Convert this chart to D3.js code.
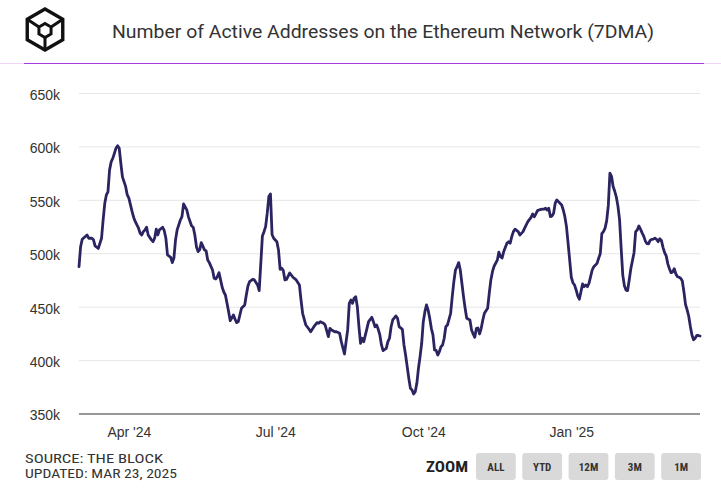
<!DOCTYPE html>
<html><head><meta charset="utf-8">
<script src="https://cdn.jsdelivr.net/npm/d3@7"></script>
<style>
html,body{margin:0;padding:0;background:#fff;}
svg{display:block;}
</style></head>
<body>
<svg id="chart" width="721" height="490"></svg>
<script>
const title = "Number of Active Addresses on the Ethereum Network (7DMA)";
const sourceLines = ["SOURCE: THE BLOCK", "UPDATED: MAR 23, 2025"];
const zoomButtons = ["ALL", "YTD", "12M", "3M", "1M"];
const yTicks = [350, 400, 450, 500, 550, 600, 650];
const xTickDates = ["2024-04-01", "2024-07-01", "2024-10-01", "2025-01-01"];
const xTickLabels = ["Apr '24", "Jul '24", "Oct '24", "Jan '25"];
const dateDomain = ["2024-03-01", "2025-03-22"];

const dates = [
"2024-03-01","2024-03-02","2024-03-03","2024-03-06","2024-03-07","2024-03-09","2024-03-10","2024-03-11","2024-03-13","2024-03-15",
"2024-03-16","2024-03-17","2024-03-18","2024-03-19","2024-03-20","2024-03-21","2024-03-22","2024-03-23","2024-03-24","2024-03-25",
"2024-03-26","2024-03-27","2024-03-28","2024-03-30","2024-03-31","2024-04-01","2024-04-02","2024-04-03","2024-04-04","2024-04-05",
"2024-04-06","2024-04-07","2024-04-08","2024-04-09","2024-04-10","2024-04-11","2024-04-12","2024-04-13","2024-04-15","2024-04-16",
"2024-04-17","2024-04-18","2024-04-19","2024-04-20","2024-04-22","2024-04-23","2024-04-24","2024-04-25","2024-04-27","2024-04-28",
"2024-04-29","2024-04-30","2024-05-01","2024-05-03","2024-05-04","2024-05-05","2024-05-07","2024-05-08","2024-05-10","2024-05-11",
"2024-05-12","2024-05-13","2024-05-14","2024-05-15","2024-05-16","2024-05-18","2024-05-19","2024-05-20","2024-05-21","2024-05-23",
"2024-05-24","2024-05-25","2024-05-26","2024-05-27","2024-05-28","2024-05-29","2024-05-30","2024-05-31","2024-06-01","2024-06-02",
"2024-06-03","2024-06-05","2024-06-06","2024-06-07","2024-06-08","2024-06-09","2024-06-10","2024-06-12","2024-06-13","2024-06-14",
"2024-06-15","2024-06-17","2024-06-18","2024-06-20","2024-06-21","2024-06-22","2024-06-23","2024-06-24","2024-06-25","2024-06-26",
"2024-06-27","2024-06-28","2024-06-29","2024-06-30","2024-07-02","2024-07-03","2024-07-04","2024-07-05","2024-07-06","2024-07-07",
"2024-07-08","2024-07-10","2024-07-12","2024-07-14","2024-07-16","2024-07-17","2024-07-18","2024-07-20","2024-07-22","2024-07-23",
"2024-07-25","2024-07-27","2024-07-28","2024-07-29","2024-07-31","2024-08-01","2024-08-03","2024-08-04","2024-08-05","2024-08-07",
"2024-08-08","2024-08-10","2024-08-11","2024-08-12","2024-08-13","2024-08-15","2024-08-16","2024-08-17","2024-08-18","2024-08-19",
"2024-08-20","2024-08-21","2024-08-22","2024-08-23","2024-08-24","2024-08-25","2024-08-27","2024-08-28","2024-08-30","2024-08-31",
"2024-09-01","2024-09-02","2024-09-03","2024-09-04","2024-09-05","2024-09-06","2024-09-08","2024-09-09","2024-09-10","2024-09-11",
"2024-09-12","2024-09-14","2024-09-15","2024-09-16","2024-09-18","2024-09-19","2024-09-20","2024-09-21","2024-09-22","2024-09-23",
"2024-09-24","2024-09-25","2024-09-26","2024-09-27","2024-09-28","2024-09-29","2024-09-30","2024-10-01","2024-10-02","2024-10-03",
"2024-10-04","2024-10-05","2024-10-06","2024-10-07","2024-10-08","2024-10-09","2024-10-10","2024-10-11","2024-10-12","2024-10-13",
"2024-10-14","2024-10-15","2024-10-16","2024-10-18","2024-10-19","2024-10-20","2024-10-21","2024-10-22","2024-10-23","2024-10-24",
"2024-10-25","2024-10-26","2024-10-27","2024-10-28","2024-10-30","2024-10-31","2024-11-01","2024-11-02","2024-11-03","2024-11-04",
"2024-11-05","2024-11-06","2024-11-07","2024-11-08","2024-11-10","2024-11-11","2024-11-12","2024-11-13","2024-11-14","2024-11-16",
"2024-11-17","2024-11-18","2024-11-19","2024-11-20","2024-11-22","2024-11-23","2024-11-24","2024-11-25","2024-11-26","2024-11-27",
"2024-11-29","2024-11-30","2024-12-02","2024-12-03","2024-12-04","2024-12-05","2024-12-07","2024-12-08","2024-12-09","2024-12-10",
"2024-12-11","2024-12-12","2024-12-14","2024-12-15","2024-12-16","2024-12-17","2024-12-18","2024-12-19","2024-12-20","2024-12-21",
"2024-12-22","2024-12-23","2024-12-24","2024-12-26","2024-12-27","2024-12-28","2024-12-29","2024-12-30","2024-12-31","2025-01-01",
"2025-01-02","2025-01-03","2025-01-04","2025-01-05","2025-01-06","2025-01-07","2025-01-08","2025-01-09","2025-01-10","2025-01-11",
"2025-01-12","2025-01-13","2025-01-14","2025-01-15","2025-01-17","2025-01-18","2025-01-19","2025-01-20","2025-01-21","2025-01-22",
"2025-01-23","2025-01-24","2025-01-25","2025-01-26","2025-01-27","2025-01-28","2025-01-29","2025-01-30","2025-01-31","2025-02-01",
"2025-02-02","2025-02-03","2025-02-04","2025-02-05","2025-02-06","2025-02-07","2025-02-08","2025-02-09","2025-02-10","2025-02-11",
"2025-02-12","2025-02-13","2025-02-14","2025-02-15","2025-02-16","2025-02-17","2025-02-18","2025-02-19","2025-02-20","2025-02-21",
"2025-02-22","2025-02-23","2025-02-24","2025-02-25","2025-02-26","2025-02-27","2025-02-28","2025-03-01","2025-03-02","2025-03-03",
"2025-03-04","2025-03-05","2025-03-06","2025-03-07","2025-03-08","2025-03-09","2025-03-10","2025-03-11","2025-03-12","2025-03-13",
"2025-03-14","2025-03-15","2025-03-16","2025-03-17","2025-03-18","2025-03-19","2025-03-20","2025-03-21","2025-03-22"
];
// active addresses, thousands
const values = [
488,506.6,513.6,517.6,514.5,514.5,513,507.3,505,514.5,
531.6,547,555,558,578.5,586,589.4,594,598.8,601.2,
598.8,584.7,572,562.8,555,552,545.7,539.4,534,530,
527,523.9,519.2,517.6,520.7,522.3,524.8,517.6,513,511.3,
514.5,523,517.6,522.3,524.8,521.6,514.5,498.9,496.7,491.7,
496,513,522.3,531.6,534.7,546.6,541,534.7,526,524.8,
517.6,506.6,502,503.6,510.4,503.6,502.9,494.2,491.7,484.8,
477,476.4,478.6,482.3,475.5,468.6,464.2,461.4,453.6,445.8,
437.4,442.7,438.7,435.5,436.5,442.7,449,452,461.4,469.9,
473.9,476.1,475.5,470.8,465.5,491,516.7,520.7,525.4,538,
553.5,556,518,514.5,511.3,503.6,485.5,486.4,484.2,475.5,
476,482,478,475.5,470.8,456.7,444.3,433.3,429.3,427,
431.7,435.5,434.9,436.4,434.9,433.3,422.4,430.2,428.7,427,
427,425.6,418,412,406.2,428.7,453.6,456.7,453.6,458.3,
459.8,450.5,431.7,416.2,420.9,417.7,430.2,436.4,440.5,436.4,
431.7,433.3,429.3,424,414.6,409.3,411.5,417.7,420.9,431.7,
438,441.8,439.6,431.7,429.3,414.6,405.2,394.3,383.4,374,
372.5,368.7,370.9,378.7,392.8,403.7,416.2,436.4,445.8,452.1,
447.4,439.6,430.2,424,409.9,409.5,405.2,408.3,413,414.6,
420.9,431.7,433.3,444.3,459.8,473.9,484.8,487.9,491.7,484.8,
472.4,459.8,449,439.6,438,428.7,424.9,421.8,430.2,430.5,
424.9,430.2,438,444.3,449,463,475.5,483.2,488.3,494,
501.5,497.3,496,502,509.8,511.3,509.8,516,520.7,523,
520.7,517.6,520.7,523.9,527,530,534,537.3,534.7,537.3,
540.4,541,541.7,541.7,542.6,541,542.6,534.7,535.4,537.9,
547.3,550.4,548.8,545.7,541,534.7,525.4,510,494,478,
472.9,470.8,466.1,460.5,457.4,464.5,471.7,469.2,470.8,469.2,
472.4,478.6,484.8,487.9,491,495.8,500,519,520.7,524,
531,545,575.4,572.5,563,558.5,553,544.5,532,505,
480,470,466,465.5,475.5,486,493.5,501,520.7,522.3,
526,523,519.5,516.5,512,509.5,509.2,512.5,513.5,513.8,
514.5,513.5,511.3,514,512.5,506,501,498,490.5,486,
482.3,483,486,481,478.5,478,477,474.5,464.5,452.5,
447.5,441.5,432,424,419.5,421,423.5,423.5,423
];

const parse = d3.timeParse("%Y-%m-%d");
const data = dates.map((d, i) => ({date: parse(d), value: values[i]}));

const svg = d3.select("#chart");
const W = 721;

// header logo
const logo = svg.append("g").attr("fill", "none").attr("stroke", "#111")
  .attr("stroke-width", 3.4).attr("stroke-linejoin", "miter");
const cx = 45, cy = 29.5, R = 20.5;
const hex = d3.range(6).map(i => {
  const a = Math.PI / 180 * (60 * i - 90);
  return [cx + R * Math.cos(a), cy + R * Math.sin(a)];
});
logo.append("path").attr("d", d3.line()(hex) + "Z");
const r = 7;
const inner = d3.range(6).map(i => {
  const a = Math.PI / 180 * (60 * i - 90);
  return [cx + r * Math.cos(a), cy + 1 + r * Math.sin(a)];
});
logo.append("path").attr("d", d3.line()(inner) + "Z").attr("stroke-width", 3);
logo.append("path").attr("d", d3.line()([hex[5], inner[5]])).attr("stroke-width", 3);
logo.append("path").attr("d", d3.line()([hex[1], inner[1]])).attr("stroke-width", 3);
logo.append("path").attr("d", d3.line()([hex[3], inner[3]])).attr("stroke-width", 3);

svg.append("text").attr("x", 112).attr("y", 38)
  .attr("font-family", "Roboto, 'Noto Sans', sans-serif").attr("font-size", 19)
  .attr("fill", "#333").attr("textLength", 542).attr("lengthAdjust", "spacingAndGlyphs")
  .text(title);

svg.append("line").attr("x1", 0).attr("x2", W).attr("y1", 63.5).attr("y2", 63.5)
  .attr("stroke", "#efd6f7").attr("stroke-width", 1);
svg.append("line").attr("x1", 24).attr("x2", 704).attr("y1", 63.5).attr("y2", 63.5)
  .attr("stroke", "#a23be0").attr("stroke-width", 1);

// scales
const x = d3.scaleTime().domain(dateDomain.map(parse)).range([79, 700]);
const y = d3.scaleLinear().domain([350, 650]).range([414, 93.5]);

// grid
svg.append("g").selectAll("line").data(yTicks.filter(v => v > 350)).join("line")
  .attr("x1", 79).attr("x2", 700)
  .attr("y1", d => y(d)).attr("y2", d => y(d))
  .attr("stroke", "#e6e6e6").attr("stroke-width", 1);

// y axis
const yAxis = d3.axisLeft(y).tickValues(yTicks).tickFormat(d => d + "k").tickSize(0).tickPadding(0);
const gy = svg.append("g").attr("transform", "translate(60,1.5)").call(yAxis);
gy.select(".domain").remove();
gy.selectAll("text").attr("font-family", "'Liberation Sans', Arial, sans-serif")
  .attr("font-size", 14).attr("fill", "#333");

// x axis
const xAxis = d3.axisBottom(x).tickValues(xTickDates.map(parse))
  .tickFormat((d, i) => xTickLabels[i]).tickSize(0).tickPadding(0);
const gx = svg.append("g").attr("transform", "translate(0,427)").call(xAxis);
gx.select(".domain").remove();
gx.selectAll("text").attr("font-family", "'Liberation Sans', Arial, sans-serif")
  .attr("font-size", 14).attr("fill", "#333");

svg.append("line").attr("x1", 79).attr("x2", 700).attr("y1", 414).attr("y2", 414)
  .attr("stroke", "#333").attr("stroke-width", 1.2);

// line
svg.append("path").datum(data)
  .attr("fill", "none").attr("stroke", "#2a2461").attr("stroke-width", 2.8)
  .attr("stroke-linejoin", "round").attr("stroke-linecap", "round")
  .attr("d", d3.line().x(d => x(d.date)).y(d => y(d.value)));

// footer
const narrow = "'Liberation Sans Narrow', 'Arial Narrow', 'Roboto Condensed', Roboto, sans-serif";
const srcWidths = [138, 152];
sourceLines.forEach((s, i) => {
  svg.append("text").attr("x", 25).attr("y", 463 + i * 14.5)
    .attr("font-family", narrow).attr("font-size", 13.5).attr("fill", "#333")
    .attr("textLength", srcWidths[i]).attr("lengthAdjust", "spacingAndGlyphs").text(s);
});
svg.append("text").attr("x", 426).attr("y", 471.5)
  .attr("font-family", narrow).attr("font-weight", "bold").attr("font-size", 15)
  .attr("fill", "#222").attr("textLength", 42).attr("lengthAdjust", "spacingAndGlyphs").text("ZOOM");
const bx = d3.scaleBand().domain(zoomButtons).range([476, 701]).paddingInner(0.14).paddingOuter(0);
const bg = svg.append("g").selectAll("g").data(zoomButtons).join("g")
  .attr("transform", d => `translate(${bx(d)},453)`);
bg.append("rect").attr("width", bx.bandwidth()).attr("height", 27).attr("rx", 3)
  .attr("fill", "#d9d9d9");
bg.append("text").attr("x", bx.bandwidth() / 2).attr("y", 18).attr("text-anchor", "middle")
  .attr("font-family", narrow).attr("font-weight", "bold").attr("font-size", 11)
  .attr("fill", "#333").text(d => d);
</script>
</body></html>
